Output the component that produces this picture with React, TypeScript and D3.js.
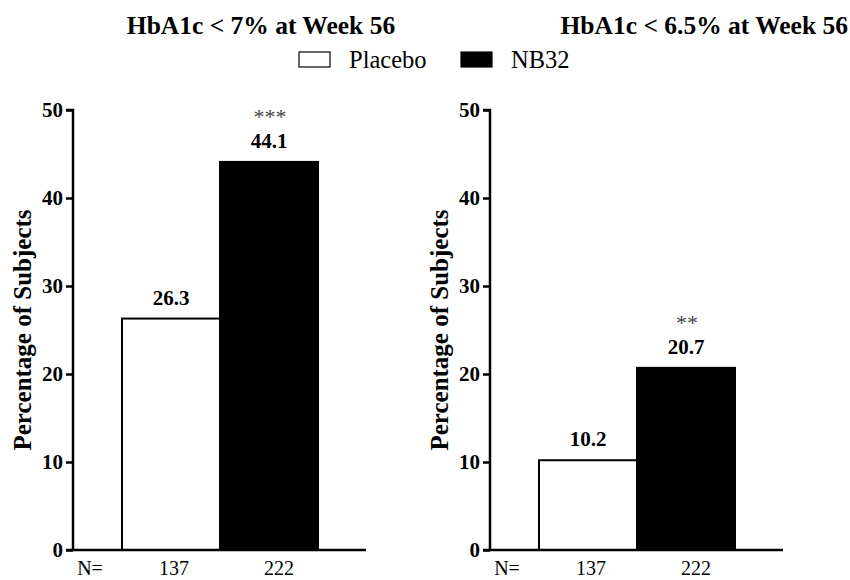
import React, { useEffect, useRef } from 'react';
import * as d3 from 'd3';

const groups = ['Placebo', 'NB32'];
const counts = [137, 222];
const panelTitles = ['HbA1c < 7% at Week 56', 'HbA1c < 6.5% at Week 56'];
const pctBelow7 = [26.3, 44.1];
const pctBelow65 = [10.2, 20.7];
const sigBelow7 = ['', '***'];
const sigBelow65 = ['', '**'];
const yTicks = [0, 10, 20, 30, 40, 50];

const panels = [
  { title: panelTitles[0], values: pctBelow7, sig: sigBelow7 },
  { title: panelTitles[1], values: pctBelow65, sig: sigBelow65 },
];

const FONT = "'Liberation Serif', 'Times New Roman', Times, serif";

const App = () => {
  const ref = useRef<SVGSVGElement>(null);

  useEffect(() => {
    const svg = d3.select(ref.current);
    svg.selectAll('*').remove();
    svg.style('font-family', FONT);

    const axisLeft = [73, 490]; // y axis of each panel
    const axisLen = 293;

    const y = d3.scaleLinear().domain([0, 50]).range([550, 110]);

    // titles
    svg.append('text')
      .attr('x', 261).attr('y', 34)
      .attr('text-anchor', 'middle')
      .style('font-family', FONT).attr('font-weight', 'bold').attr('font-size', 25.5)
      .text(panelTitles[0]);
    svg.append('text')
      .attr('x', 848).attr('y', 34)
      .attr('text-anchor', 'end')
      .style('font-family', FONT).attr('font-weight', 'bold').attr('font-size', 25.5)
      .text(panelTitles[1]);

    // legend
    const legendX = [299, 461];
    groups.forEach((g, i) => {
      svg.append('rect')
        .attr('x', legendX[i]).attr('y', 52)
        .attr('width', 31).attr('height', 15)
        .attr('fill', i === 0 ? '#fff' : '#000')
        .attr('stroke', '#000').attr('stroke-width', 1.2);
      svg.append('text')
        .attr('x', legendX[i] + 50).attr('y', 68)
        .style('font-family', FONT).attr('font-size', 24.5)
        .text(g);
    });

    panels.forEach((p, pi) => {
      const ox = axisLeft[pi];
      const g = svg.append('g').attr('transform', `translate(${ox},0)`);

      const x = d3.scaleBand().domain(groups).range([49, 245]).padding(0);

      // bars
      g.selectAll('rect.bar')
        .data(p.values)
        .enter().append('rect')
        .attr('class', 'bar')
        .attr('x', (d, i) => x(groups[i]) as number)
        .attr('y', d => y(d))
        .attr('width', x.bandwidth())
        .attr('height', d => y(0) - y(d))
        .attr('fill', (d, i) => (i === 0 ? '#fff' : '#000'))
        .attr('stroke', '#000').attr('stroke-width', 2);

      // y axis
      const ya = g.append('g')
        .call(d3.axisLeft(y).tickValues(yTicks).tickSize(7).tickPadding(3).tickFormat(d3.format('d')));
      ya.select('.domain').attr('stroke-width', 2.5).attr('d', `M-7,${y(50)}H0V${y(0)}`);
      ya.selectAll('.tick line').attr('stroke-width', 2.5);
      ya.selectAll('.tick text')
        .style('font-family', FONT).attr('font-weight', 'bold').attr('font-size', 21)
        .attr('fill', '#000');

      // x axis line
      g.append('line')
        .attr('x1', -7).attr('x2', axisLen)
        .attr('y1', y(0)).attr('y2', y(0))
        .attr('stroke', '#000').attr('stroke-width', 2.5);

      // y label
      g.append('text')
        .attr('transform', `translate(${-42},${330}) rotate(-90)`)
        .attr('text-anchor', 'middle')
        .style('font-family', FONT).attr('font-weight', 'bold').attr('font-size', 25)
        .text('Percentage of Subjects');

      // value labels and significance
      p.values.forEach((v, i) => {
        const cx = (x(groups[i]) as number) + x.bandwidth() / 2;
        g.append('text')
          .attr('x', cx).attr('y', y(v) - 14)
          .attr('text-anchor', 'middle')
          .style('font-family', FONT).attr('font-weight', 'bold').attr('font-size', 21)
          .text(v.toFixed(1));
        if (p.sig[i]) {
          g.append('text')
            .attr('x', cx + 1).attr('y', y(v) - 38)
            .attr('text-anchor', 'middle')
            .style('font-family', FONT).attr('font-size', 22)
            .attr('fill', '#444')
            .text(p.sig[i]);
        }
      });

      // N row
      g.append('text')
        .attr('x', 17).attr('y', 575)
        .attr('text-anchor', 'middle')
        .style('font-family', FONT).attr('font-size', 20)
        .text('N=');
      counts.forEach((n, i) => {
        const cx = (x(groups[i]) as number) + x.bandwidth() / 2 + (i === 0 ? 3 : 10);
        g.append('text')
          .attr('x', cx).attr('y', 575)
          .attr('text-anchor', 'middle')
          .style('font-family', FONT).attr('font-size', 20)
          .text(n);
      });
    });
  }, []);

  return (
    <svg ref={ref} width={850} height={580} style={{ position: 'absolute', left: 0, top: 0, background: '#fff' }} />
  );
};

export default App;
